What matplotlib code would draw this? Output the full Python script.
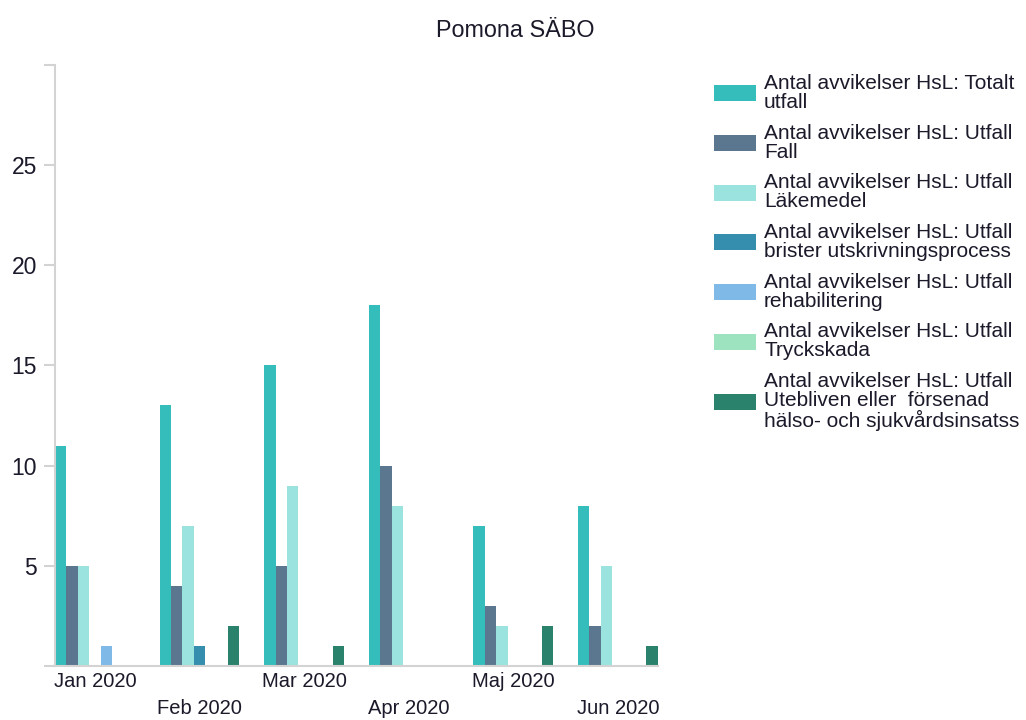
import matplotlib.pyplot as plt
import numpy as np

plt.rcParams['font.family'] = ['Liberation Sans', 'DejaVu Sans']

# months on the x axis
months = ['Jan 2020', 'Feb 2020', 'Mar 2020', 'Apr 2020', 'Maj 2020', 'Jun 2020']

# one list per series
totalt = [11, 13, 15, 18, 7, 8]
fall = [5, 4, 5, 10, 3, 2]
lakemedel = [5, 7, 9, 8, 2, 5]
brister = [0, 1, 0, 0, 0, 0]
rehab = [1, 0, 0, 0, 0, 0]
tryckskada = [0, 0, 0, 0, 0, 0]
utebliven = [0, 2, 1, 0, 2, 1]

labels = ['Antal avvikelser HsL: Totalt\nutfall',
          'Antal avvikelser HsL: Utfall\nFall',
          'Antal avvikelser HsL: Utfall\nLäkemedel',
          'Antal avvikelser HsL: Utfall\nbrister utskrivningsprocess',
          'Antal avvikelser HsL: Utfall\nrehabilitering',
          'Antal avvikelser HsL: Utfall\nTryckskada',
          'Antal avvikelser HsL: Utfall\nUtebliven eller  försenad\nhälso- och sjukvårdsinsatss']
colors = ['#35bdbb', '#5b778f', '#9ae3de', '#358ead', '#7fb9e8', '#9de3c0', '#2a826c']
series = [totalt, fall, lakemedel, brister, rehab, tryckskada, utebliven]

fig = plt.figure(figsize=(10.26, 7.2), dpi=100)
ax = fig.add_axes([0.0536, 0.075, 0.5875, 0.835])

x = np.arange(len(months))
w = 0.109
for j, vals in enumerate(series):
    ax.bar(x + (j - 3) * w, vals, width=w, color=colors[j], label=labels[j])

ax.set_xlim(-3.5 * w, len(months) - 1 + 3.5 * w)
ax.set_ylim(0, 30)

# y axis
ax.set_yticks(range(0, 31, 5))
ax.set_yticklabels(['', '5', '10', '15', '20', '25', ''])
ax.tick_params(axis='y', length=8, width=1.5, color='#d3d3d3', pad=5,
               labelsize=16.5, labelcolor='#1a1a2a')

# staggered month labels: even ones as major ticks, odd ones as minor ticks
ax.set_xticks(x[::2])
ax.set_xticklabels(months[::2])
ax.set_xticks(x[1::2], minor=True)
ax.set_xticklabels(months[1::2], minor=True)
ax.tick_params(axis='x', which='major', length=0, pad=4, labelsize=14.5, labelcolor='#1a1a2a')
ax.tick_params(axis='x', which='minor', length=0, pad=24, labelsize=14.5, labelcolor='#1a1a2a')

for s in ['top', 'right']:
    ax.spines[s].set_visible(False)
for s in ['left', 'bottom']:
    ax.spines[s].set_color('#d3d3d3')
    ax.spines[s].set_linewidth(1.5)

fig.text(0.502, 0.958, 'Pomona SÄBO', ha='center', va='center', fontsize=16.8, color='#1a1a2a')

leg = fig.legend(loc='upper left', bbox_to_anchor=(0.696, 0.897), frameon=False,
                 fontsize=15, handlelength=2.0, handleheight=0.8, handletextpad=0.4,
                 labelspacing=0.56, borderpad=0, borderaxespad=0)
for t in leg.get_texts():
    t.set_linespacing(1.0)
    t.set_color('#1a1a2a')

fig.savefig('out.png', dpi=100)
